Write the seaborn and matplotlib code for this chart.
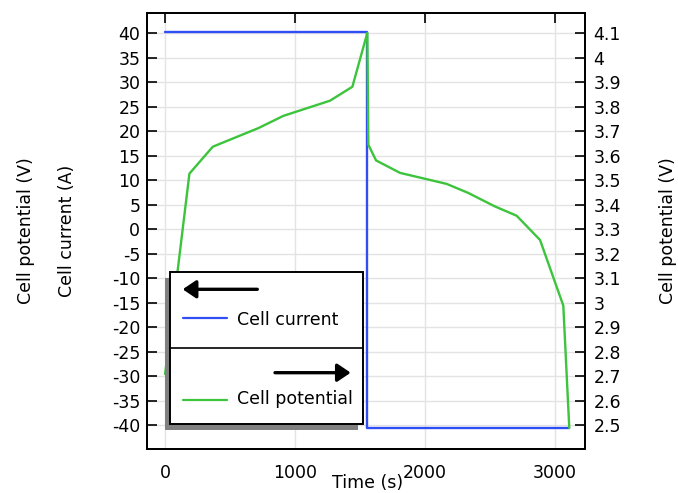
import numpy as np
import pandas as pd
import matplotlib
matplotlib.use("Agg")
import matplotlib.pyplot as plt
import seaborn as sns
from matplotlib.patches import Rectangle, FancyArrowPatch
from matplotlib.lines import Line2D

# ---------------- data ----------------
current_time = [0, 1553, 1553, 3110]          # s
current_vals = [40.3, 40.3, -40.6, -40.6]     # A

potential_time = [0, 187, 367, 718, 910, 1269, 1441, 1556, 1564, 1623, 1808,
                  2167, 2333, 2538, 2705, 2885, 3064, 3110]
potential_vals = [2.708, 3.527, 3.637, 3.713, 3.763, 3.825, 3.882, 4.102, 3.645,
                  3.581, 3.530, 3.485, 3.448, 3.393, 3.355, 3.256, 2.988, 2.488]

left_ticks = list(range(-40, 41, 5))
left_ticklabels = [str(v) for v in left_ticks]
right_ticks = [2.5, 2.6, 2.7, 2.8, 2.9, 3.0, 3.1, 3.2, 3.3, 3.4, 3.5, 3.6, 3.7, 3.8, 3.9, 4.0, 4.1]
right_ticklabels = ["2.5", "2.6", "2.7", "2.8", "2.9", "3", "3.1", "3.2", "3.3", "3.4",
                    "3.5", "3.6", "3.7", "3.8", "3.9", "4", "4.1"]
x_ticks = [0, 1000, 2000, 3000]
x_ticklabels = ["0", "1000", "2000", "3000"]

BLUE = "#2f4ff5"
GREEN = "#3cc43c"

# ---------------- style ----------------
sns.set_style("white")
plt.rcParams["font.family"] = ["DejaVu Sans"]
plt.rcParams["axes.unicode_minus"] = False
plt.rcParams["text.color"] = "black"
FS = 12.5

W, H = 678, 493
fig = plt.figure(figsize=(W / 100, H / 100), dpi=100)
ax_l, ax_r, ax_t, ax_b = 147.3, 585.0, 13.3, 449.0
ax = fig.add_axes([ax_l / W, 1 - ax_b / H, (ax_r - ax_l) / W, (ax_b - ax_t) / H])
ax2 = ax.twinx()

df_c = pd.DataFrame({"t": current_time, "I": current_vals})
df_v = pd.DataFrame({"t": potential_time, "V": potential_vals})

sns.lineplot(data=df_c, x="t", y="I", ax=ax, color=BLUE, lw=1.7,
             estimator=None, sort=False)
sns.lineplot(data=df_v, x="t", y="V", ax=ax2, color=GREEN, lw=1.7,
             estimator=None, sort=False)

ylo, yhi = -44.9, 44.1
ax.set_ylim(ylo, yhi)
ax2.set_ylim(3.3 + 0.02 * ylo, 3.3 + 0.02 * yhi)
ax.set_xlim(-137, 3231)

ax.set_xticks(x_ticks)
ax.set_xticklabels(x_ticklabels)
ax.set_yticks(left_ticks)
ax.set_yticklabels(left_ticklabels)
ax2.set_yticks(right_ticks)
ax2.set_yticklabels(right_ticklabels)

ax.grid(True, color="#e3e3e3", lw=1.0)
ax.set_axisbelow(True)
ax2.grid(False)

ax.tick_params(axis="x", direction="in", length=7, width=1.2, top=True,
               labelsize=FS, pad=11, colors="black")
ax.tick_params(axis="y", direction="in", length=7, width=1.2, left=True,
               labelsize=FS, pad=5, colors="black")
ax2.tick_params(axis="y", direction="in", length=7, width=1.2, right=True,
                labelsize=FS, pad=6, colors="black")
for a in (ax, ax2):
    for s in a.spines.values():
        s.set_visible(True)
        s.set_color("black")
        s.set_linewidth(1.3)
ax.set_xlabel("")
ax.set_ylabel("")
ax2.set_ylabel("")

# axis titles (figure text)
def fx(px):
    return px / W

def fy(py):
    return 1 - py / H

fig.text(fx(26), fy(231), "Cell potential (V)", rotation=90, ha="center", va="center", fontsize=FS)
fig.text(fx(67), fy(231), "Cell current (A)", rotation=90, ha="center", va="center", fontsize=FS)
fig.text(fx(668), fy(231), "Cell potential (V)", rotation=90, ha="center", va="center", fontsize=FS)
fig.text(fx(368), fy(483), "Time (s)", ha="center", va="center", fontsize=FS)

# ---------------- legend (drawn as figure artists) ----------------
lx0, lx1, ly0, ly1 = 170.0, 363.3, 271.7, 424.0
shadow = Rectangle((fx(lx0 - 5), fy(ly1 + 6)), (lx1 - lx0) / W, (ly1 - ly0) / H,
                   transform=fig.transFigure, facecolor="0.5", edgecolor="none", zorder=5)
box = Rectangle((fx(lx0), fy(ly1)), (lx1 - lx0) / W, (ly1 - ly0) / H,
                transform=fig.transFigure, facecolor="white", edgecolor="black",
                lw=1.4, zorder=6)
fig.add_artist(shadow)
fig.add_artist(box)
fig.add_artist(Line2D([fx(lx0), fx(lx1)], [fy(348.3), fy(348.3)], transform=fig.transFigure,
                      color="black", lw=1.2, zorder=7))

arrow_style = "-|>,head_length=0.4,head_width=0.27"
fig.add_artist(FancyArrowPatch((fx(257.3), fy(289.3)), (fx(182.7), fy(289.3)),
                               transform=fig.transFigure, arrowstyle=arrow_style,
                               mutation_scale=20, lw=2.4, color="black",
                               shrinkA=0, shrinkB=0, zorder=8))
fig.add_artist(FancyArrowPatch((fx(275.0), fy(372.7)), (fx(350.7), fy(372.7)),
                               transform=fig.transFigure, arrowstyle=arrow_style,
                               mutation_scale=20, lw=2.4, color="black",
                               shrinkA=0, shrinkB=0, zorder=8))
fig.add_artist(Line2D([fx(182.7), fx(226.7)], [fy(318), fy(318)], transform=fig.transFigure,
                      color=BLUE, lw=1.6, zorder=8))
fig.add_artist(Line2D([fx(182.7), fx(226.7)], [fy(400), fy(400)], transform=fig.transFigure,
                      color=GREEN, lw=1.6, zorder=8))
fig.text(fx(236.7), fy(320), "Cell current", ha="left", va="center", fontsize=FS, zorder=9)
fig.text(fx(236.7), fy(399), "Cell potential", ha="left", va="center", fontsize=FS, zorder=9)

fig.savefig("out.png", dpi=100)
